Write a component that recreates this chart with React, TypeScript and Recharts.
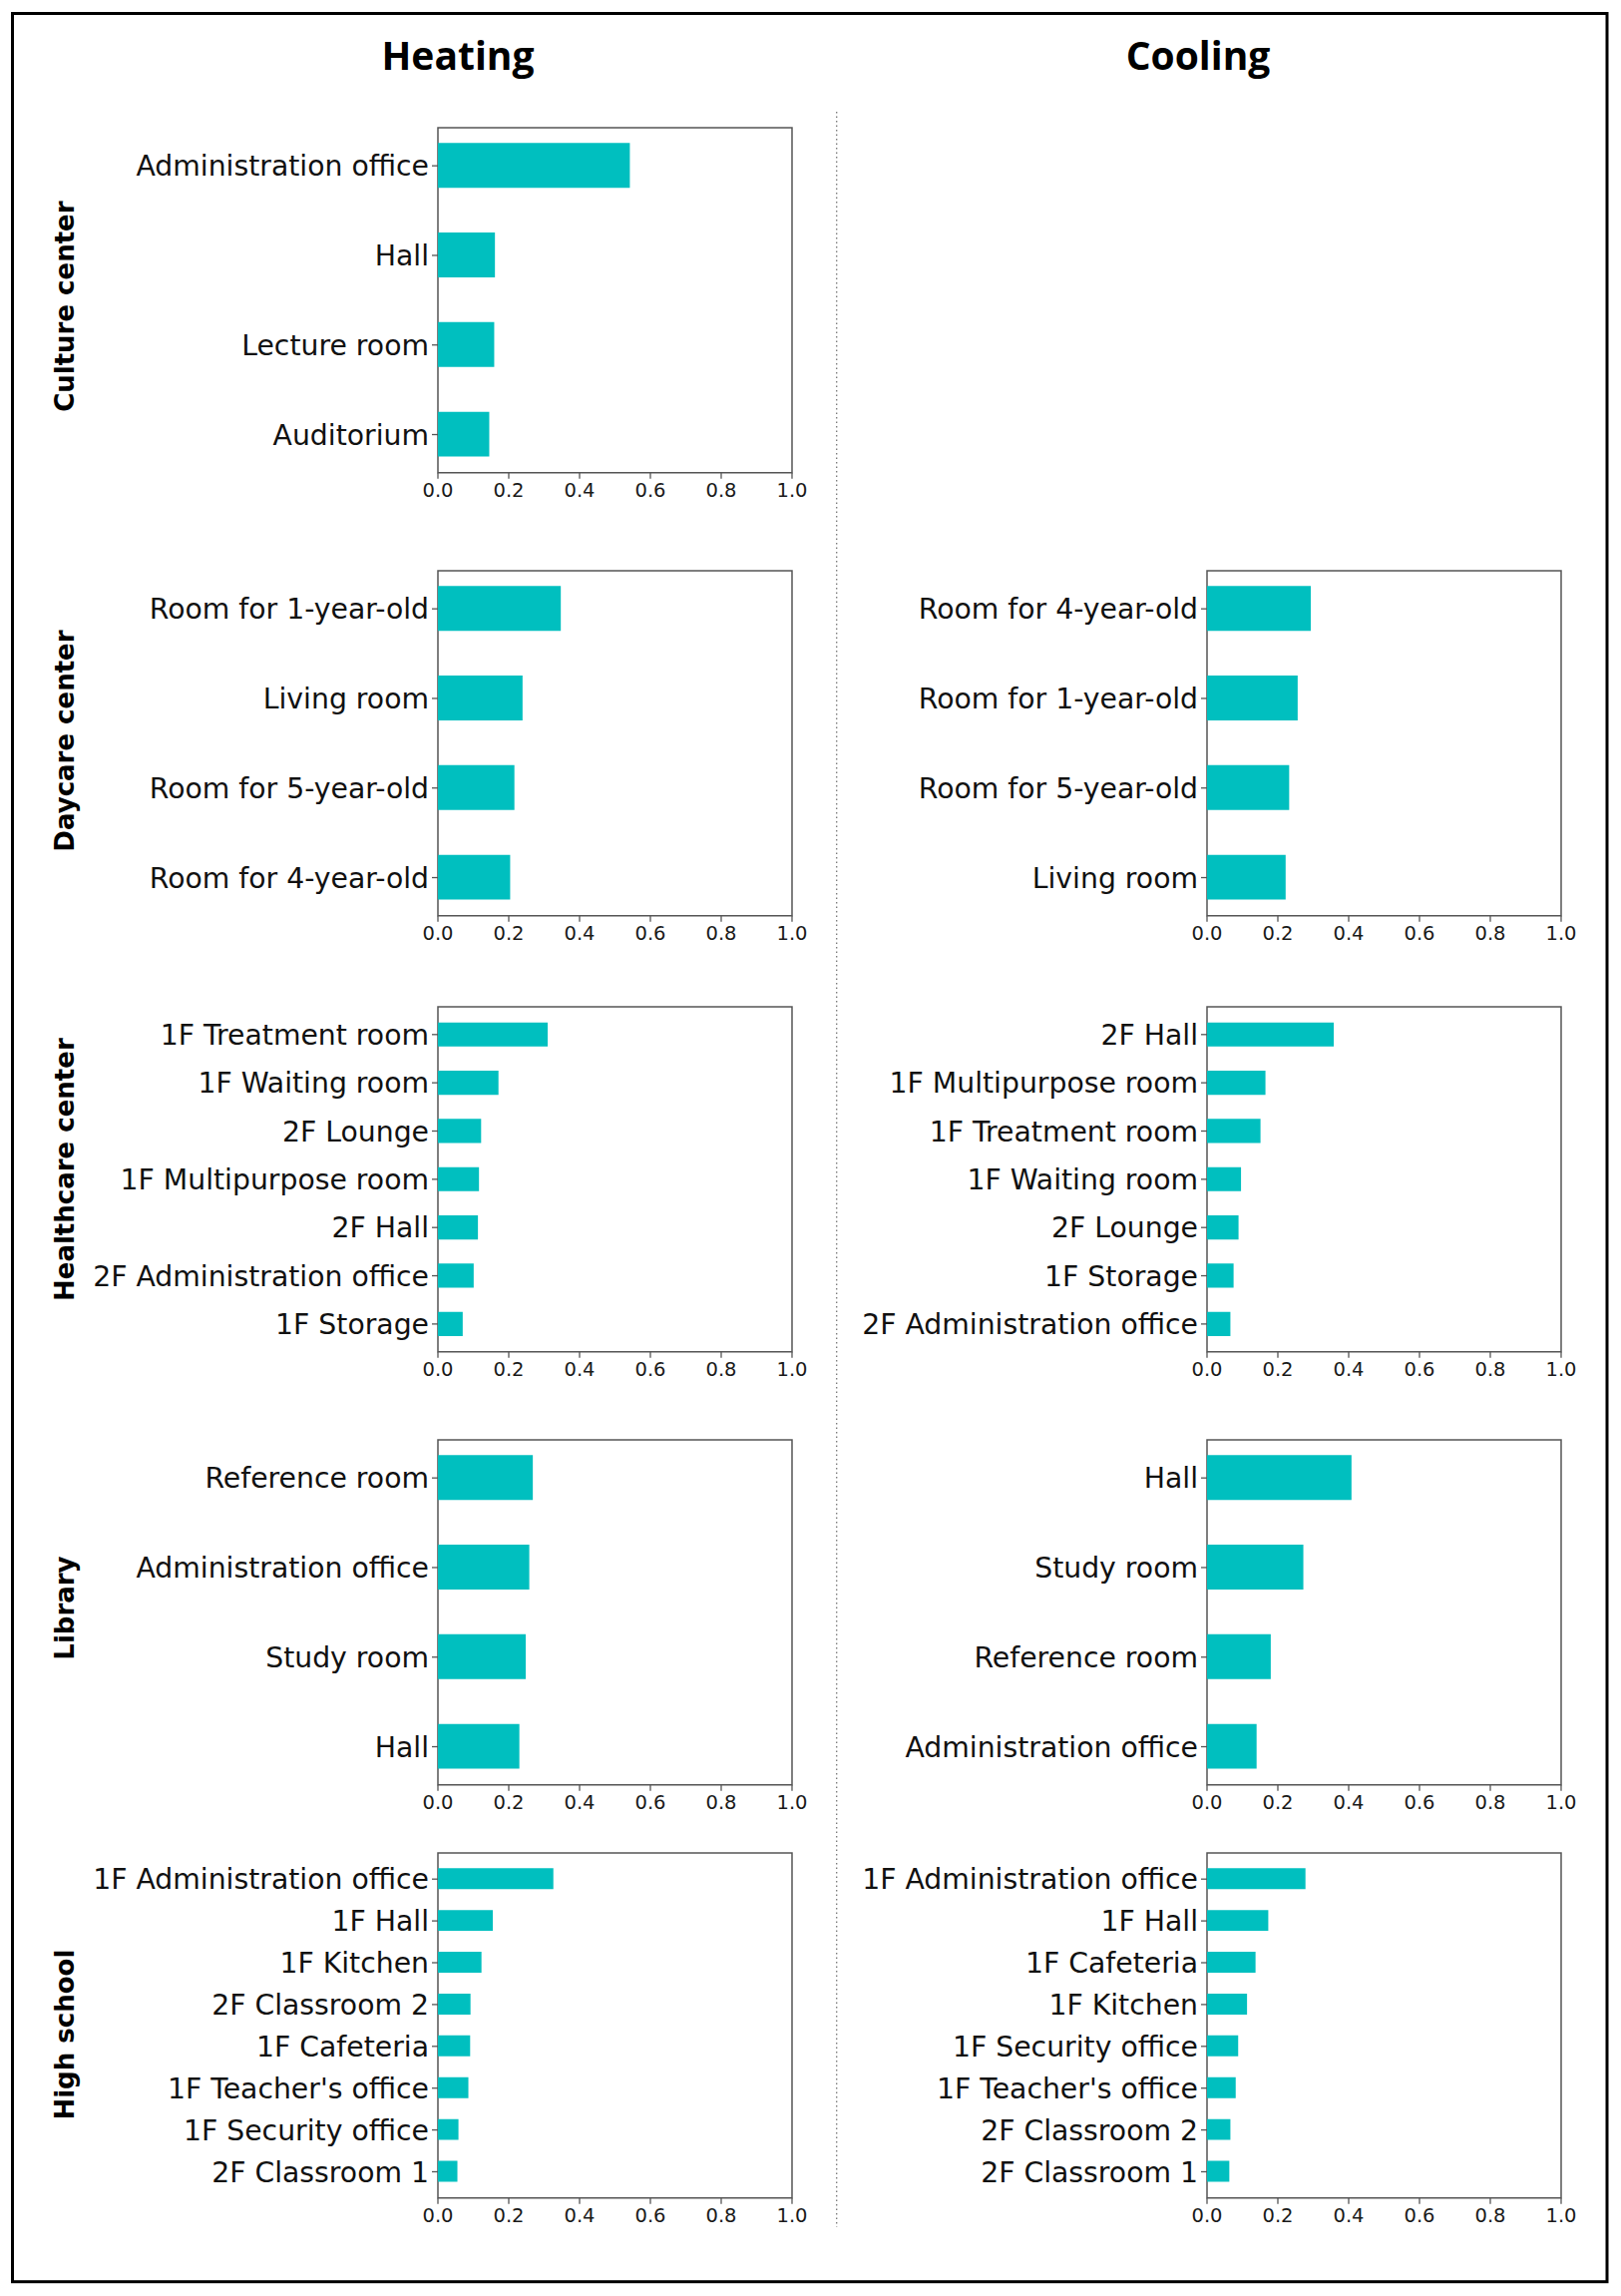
import React from 'react';
import { BarChart, Bar, XAxis, YAxis, ReferenceArea } from 'recharts';

// ---------- data ----------
const columnTitles = ['Heating', 'Cooling'];
const buildingNames = ['Culture center', 'Daycare center', 'Healthcare center', 'Library', 'High school'];
const xTicks = [0, 0.2, 0.4, 0.6, 0.8, 1.0];

const cultureHeatingRooms = ['Administration office', 'Hall', 'Lecture room', 'Auditorium'];
const cultureHeatingValues = [0.542, 0.161, 0.159, 0.145];

const daycareHeatingRooms = ['Room for 1-year-old', 'Living room', 'Room for 5-year-old', 'Room for 4-year-old'];
const daycareHeatingValues = [0.347, 0.239, 0.216, 0.204];
const daycareCoolingRooms = ['Room for 4-year-old', 'Room for 1-year-old', 'Room for 5-year-old', 'Living room'];
const daycareCoolingValues = [0.293, 0.256, 0.232, 0.222];

const healthHeatingRooms = ['1F Treatment room', '1F Waiting room', '2F Lounge', '1F Multipurpose room', '2F Hall', '2F Administration office', '1F Storage'];
const healthHeatingValues = [0.31, 0.171, 0.122, 0.116, 0.113, 0.101, 0.07];
const healthCoolingRooms = ['2F Hall', '1F Multipurpose room', '1F Treatment room', '1F Waiting room', '2F Lounge', '1F Storage', '2F Administration office'];
const healthCoolingValues = [0.358, 0.165, 0.151, 0.096, 0.089, 0.075, 0.066];

const libraryHeatingRooms = ['Reference room', 'Administration office', 'Study room', 'Hall'];
const libraryHeatingValues = [0.268, 0.258, 0.248, 0.23];
const libraryCoolingRooms = ['Hall', 'Study room', 'Reference room', 'Administration office'];
const libraryCoolingValues = [0.408, 0.272, 0.18, 0.14];

const schoolHeatingRooms = ['1F Administration office', '1F Hall', '1F Kitchen', '2F Classroom 2', '1F Cafeteria', "1F Teacher's office", '1F Security office', '2F Classroom 1'];
const schoolHeatingValues = [0.326, 0.155, 0.123, 0.092, 0.091, 0.086, 0.058, 0.055];
const schoolCoolingRooms = ['1F Administration office', '1F Hall', '1F Cafeteria', '1F Kitchen', '1F Security office', "1F Teacher's office", '2F Classroom 2', '2F Classroom 1'];
const schoolCoolingValues = [0.278, 0.173, 0.137, 0.113, 0.088, 0.081, 0.066, 0.063];

// ---------- layout ----------
const PAGE_W = 1625;
const PAGE_H = 2301;
const COL_LEFT = [439.3, 1210];
const ROW_TOP = [128.3, 571.7, 1009.3, 1442.7, 1857.3];
const ROW_LABEL_SHIFT = [6, -2, -10, -4, 9];
const PW = 355;
const PH = 345.7;
const YW = 430;
const MT = 6;
const MR = 30;
const XH = 44;
const AX = '#555555';
const BAR = '#00bfbf';
const TITLE_X = [459, 1201];

type PanelProps = { rooms: string[]; values: number[]; col: number; row: number };

function Panel({ rooms, values, col, row }: PanelProps) {
  const n = rooms.length;
  const pad = 0.25 + 0.05 * (n - 0.5);
  const data = rooms.map((r, i) => ({ room: r, idx: i, value: values[i] }));
  const band = PH / (n - 1 + 2 * pad);
  const left = COL_LEFT[col];
  const top = ROW_TOP[row];
  return (
    <div style={{ position: 'absolute', left: left - YW, top: top - MT }}>
      <BarChart
        layout="vertical"
        width={YW + PW + MR}
        height={MT + PH + XH}
        data={data}
        margin={{ top: MT, right: MR, bottom: 0, left: 0 }}
      >
        <XAxis
          type="number"
          domain={[0, 1]}
          ticks={xTicks}
          interval={0}
          allowDataOverflow
          tickFormatter={(v: number) => v.toFixed(1)}
          axisLine={false}
          tickLine={{ stroke: AX, strokeWidth: 1.3 }}
          tickSize={6}
          tickMargin={4}
          height={XH}
          tick={{ fontSize: 19.5, fill: '#1a1a1a', fontFamily: 'DejaVu Sans' }}
        />
        <YAxis
          type="number"
          dataKey="idx"
          domain={[-pad, n - 1 + pad]}
          allowDataOverflow
          ticks={data.map((d) => d.idx)}
          interval={0}
          tickFormatter={(v: number) => rooms[Math.round(v)]}
          axisLine={false}
          tickLine={{ stroke: AX, strokeWidth: 1.3 }}
          tickSize={6}
          tickMargin={3}
          width={YW}
          tick={{ fontSize: 28.3, fill: '#111', fontFamily: 'DejaVu Sans' }}
        />
        <Bar dataKey="value" fill={BAR} barSize={band * 0.5} isAnimationActive={false} />
        <ReferenceArea
          x1={0}
          x2={1}
          y1={-pad}
          y2={n - 1 + pad}
          fill="none"
          fillOpacity={0}
          stroke={AX}
          strokeWidth={1.5}
          ifOverflow="visible"
        />
      </BarChart>
    </div>
  );
}

export default function App() {
  return (
    <div
      style={{
        position: 'absolute',
        left: 0,
        top: 0,
        width: PAGE_W,
        height: PAGE_H,
        background: '#fff',
        overflow: 'hidden',
      }}
    >
      <svg width={PAGE_W} height={PAGE_H} style={{ position: 'absolute', left: 0, top: 0 }}>
        <rect x={12.5} y={13.5} width={1598.5} height={2273.2} fill="none" stroke="#000" strokeWidth={3} />
        <line x1={838.7} y1={112} x2={838.7} y2={2232} stroke="#777" strokeWidth={1.3} strokeDasharray="1.5 3" />
        {columnTitles.map((t, i) => (
          <text
            key={t}
            x={TITLE_X[i]}
            y={70}
            textAnchor="middle"
            fontFamily="Open Sans"
            fontWeight="bold"
            fontSize={39}
            fill="#000"
          >
            {t}
          </text>
        ))}
        {buildingNames.map((b, i) => {
          const cy = ROW_TOP[i] + PH / 2 + ROW_LABEL_SHIFT[i];
          return (
            <text
              key={b}
              x={0}
              y={0}
              transform={`translate(74, ${cy}) rotate(-90)`}
              textAnchor="middle"
              fontFamily="DejaVu Sans"
              fontWeight="bold"
              fontSize={26}
              fill="#000"
            >
              {b}
            </text>
          );
        })}
      </svg>
      <Panel rooms={cultureHeatingRooms} values={cultureHeatingValues} col={0} row={0} />
      <Panel rooms={daycareHeatingRooms} values={daycareHeatingValues} col={0} row={1} />
      <Panel rooms={daycareCoolingRooms} values={daycareCoolingValues} col={1} row={1} />
      <Panel rooms={healthHeatingRooms} values={healthHeatingValues} col={0} row={2} />
      <Panel rooms={healthCoolingRooms} values={healthCoolingValues} col={1} row={2} />
      <Panel rooms={libraryHeatingRooms} values={libraryHeatingValues} col={0} row={3} />
      <Panel rooms={libraryCoolingRooms} values={libraryCoolingValues} col={1} row={3} />
      <Panel rooms={schoolHeatingRooms} values={schoolHeatingValues} col={0} row={4} />
      <Panel rooms={schoolCoolingRooms} values={schoolCoolingValues} col={1} row={4} />
    </div>
  );
}
